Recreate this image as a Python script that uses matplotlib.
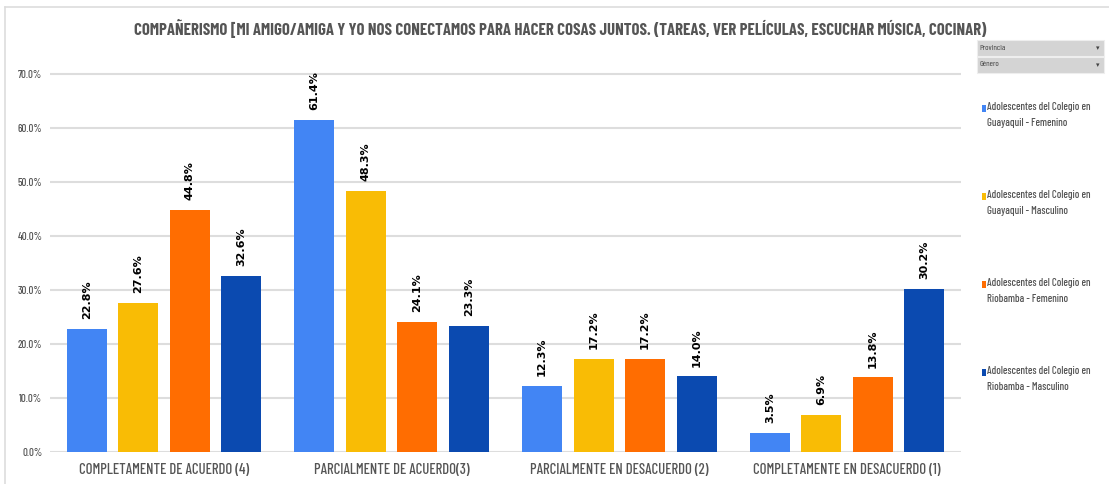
import matplotlib
matplotlib.use("Agg")
import matplotlib.pyplot as plt
from matplotlib.patches import Rectangle
from matplotlib.lines import Line2D
from matplotlib import font_manager
import numpy as np

# data
categories = ["COMPLETAMENTE DE ACUERDO (4)", "PARCIALMENTE DE ACUERDO(3)",
              "PARCIALMENTE EN DESACUERDO (2)", "COMPLETAMENTE EN DESACUERDO (1)"]
guayaquil_fem = [22.8, 61.4, 12.3, 3.5]
guayaquil_mas = [27.6, 48.3, 17.2, 6.9]
riobamba_fem = [44.8, 24.1, 17.2, 13.8]
riobamba_mas = [32.6, 23.3, 14.0, 30.2]
series_names = ["Adolescentes del Colegio en\nGuayaquil - Femenino",
                "Adolescentes del Colegio en\nGuayaquil - Masculino",
                "Adolescentes del Colegio en\nRiobamba - Femenino",
                "Adolescentes del Colegio en\nRiobamba - Masculino"]
colors = ["#4285F4", "#F9BC05", "#FF6D01", "#0B4AB0"]
title = ("COMPAÑERISMO [MI AMIGO/AMIGA Y YO NOS CONECTAMOS PARA HACER COSAS JUNTOS. "
         "(TAREAS, VER PELÍCULAS, ESCUCHAR MÚSICA, COCINAR)")

# condensed font, the original looks like squeezed Arial
names = {f.name for f in font_manager.fontManager.ttflist}
narrow = "DejaVu Sans"
for cand in ["Barlow Condensed", "Roboto Condensed", "Archivo Narrow", "Asap Condensed"]:
    if cand in names:
        narrow = cand
        break
grey = "#555555"

W, H = 1109, 484
fig = plt.figure(figsize=(W / 100, H / 100), dpi=100)
ax = fig.add_axes([50 / W, 32 / H, 911 / W, 381 / H])
renderer = fig.canvas.get_renderer()


def fit_width(txt, target):
    # scale font size so the text is about target px wide
    w = txt.get_window_extent(renderer).width
    txt.set_fontsize(txt.get_fontsize() * target / w)
    return txt.get_fontsize()


series = [guayaquil_fem, guayaquil_mas, riobamba_fem, riobamba_mas]
x = np.arange(len(categories))
step = 0.226
width = 0.175
for i, vals in enumerate(series):
    pos = x + (i - 1.5) * step
    bars = ax.bar(pos, np.array(vals) / 100, width, color=colors[i], zorder=3)
    for b, v in zip(bars, vals):
        ax.annotate(f"{v:.1f}%", (b.get_x() + b.get_width() / 2, b.get_height()),
                    xytext=(0, 7), textcoords="offset points", rotation=90,
                    ha="center", va="bottom", fontsize=8, fontweight="bold",
                    color="black", family="DejaVu Sans")

ax.set_xlim(-0.5, 3.5)
ax.set_ylim(0, 0.705)
yt = np.arange(0, 0.71, 0.1)
ax.set_yticks(yt)
ylabs = ax.set_yticklabels([f"{t * 100:.1f}%" for t in yt], family=narrow,
                           fontsize=10, color=grey, fontweight="medium")
ax.set_xticks(x)
xlabs = ax.set_xticklabels(categories, family=narrow, fontsize=10, color=grey,
                           fontweight="medium")
ax.tick_params(length=0)
ax.tick_params(axis="x", pad=8)
ax.tick_params(axis="y", pad=5.5)
ax.grid(axis="y", color="#dddddd", linewidth=1.5, zorder=0)
for s in ax.spines.values():
    s.set_visible(False)

fs = fit_width(xlabs[0], 170)
for t in xlabs:
    t.set_fontsize(fs)
fs = fit_width(ylabs[-1], 24)
for t in ylabs:
    t.set_fontsize(fs)

tt = fig.text(560 / W, 1 - 28 / H, title, ha="center", va="center", family=narrow,
              fontsize=11.5, fontweight="bold", color=grey)
fit_width(tt, 850)

# border lines
fig.add_artist(Line2D([5 / W, 1], [1 - 7 / H, 1 - 7 / H], color="#dddddd", lw=1.2))
fig.add_artist(Line2D([5 / W, 5 / W], [0, 1 - 7 / H], color="#dddddd", lw=1.2))

# dropdowns
for j, lab in enumerate(["Provincia", "Género"]):
    y0 = 1 - (56 + 17 * j) / H
    fig.add_artist(Rectangle((977 / W, y0), 127 / W, 16 / H, transform=fig.transFigure,
                             facecolor="#d4d4d4", edgecolor="#eeeeee", lw=0.8))
    fig.text(979 / W, y0 + 8 / H, lab, fontsize=6, va="center", family=narrow, color="#444444")
    fig.text(1099 / W, y0 + 8 / H, "▾", fontsize=5, va="center", ha="right", color="#444444")

# legend
leg_fs = None
for i, name in enumerate(series_names):
    ytop = 1 - (102 + 88 * i) / H
    fig.add_artist(Rectangle((982 / W, ytop - 10 / H), 4 / W, 7 / H, transform=fig.transFigure,
                             facecolor=colors[i], edgecolor="none"))
    lt = fig.text(987 / W, ytop, name, fontsize=10, va="top", ha="left", family=narrow,
                  color=grey, linespacing=1.7, fontweight="medium")
    if leg_fs is None:
        probe = fig.text(0, 0, name.split("\n")[0], fontsize=10, family=narrow,
                         fontweight="medium")
        leg_fs = fit_width(probe, 103)
        probe.remove()
    lt.set_fontsize(leg_fs)

fig.savefig("out.png", dpi=100)
